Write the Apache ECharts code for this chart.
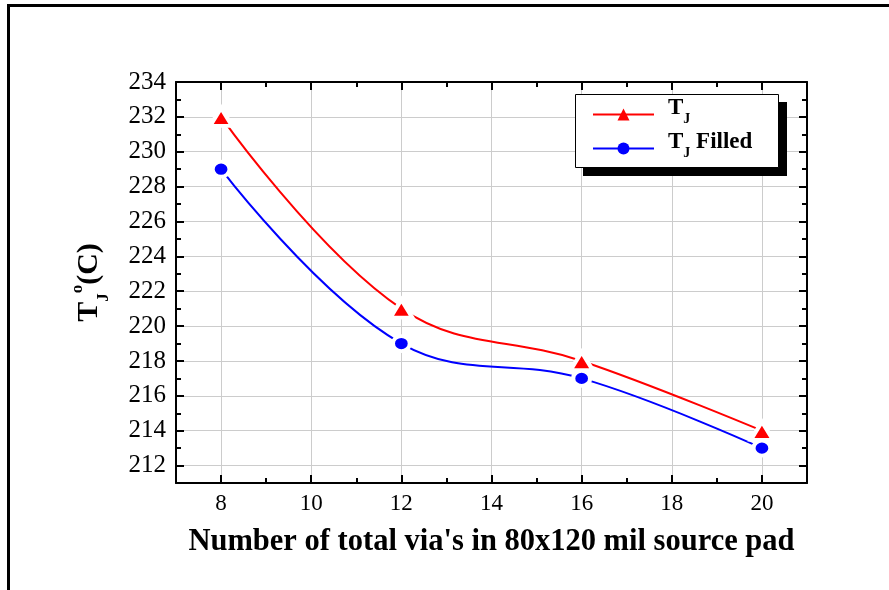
<!DOCTYPE html>
<html>
<head>
<meta charset="utf-8">
<script src="https://cdn.jsdelivr.net/npm/echarts@6/dist/echarts.min.js"></script>
<style>
  html, body { margin: 0; padding: 0; background: #fff; }
  #chart { width: 889px; height: 590px; }
</style>
</head>
<body>
<div id="chart"></div>
<script>
// via counts on the x axis
const vias = [8, 12, 16, 20]
// junction temperature, degC
const tj = [232, 221, 218, 214]
const tjFilled = [229, 219, 217, 213]
const seriesNames = ['T_J', 'T_J Filled']

const FONT = '"Liberation Serif", "Times New Roman", serif'

const toPairs = (ys) => vias.map((x, i) => [x, ys[i]])

const majorAxis = (pos, withLabel, extra) => Object.assign({
  type: 'value',
  position: pos,
  axisLine: { show: true, onZero: false, lineStyle: { color: '#000', width: 2 } },
  axisTick: { show: true, inside: true, length: 8, lineStyle: { color: '#000', width: 2 } },
  axisLabel: { show: withLabel },
  splitLine: { show: false },
}, extra)

const minorAxis = (pos, extra) => Object.assign({
  type: 'value',
  position: pos,
  interval: 1,
  axisLine: { show: false },
  axisTick: { show: true, inside: true, length: 5, lineStyle: { color: '#000', width: 2 } },
  axisLabel: { show: false },
  splitLine: { show: false },
}, extra)

const evenOnly = (v) => (v % 2 === 0 ? String(v) : '')

const xRange = { min: 7, max: 21 }
const yRange = { min: 211, max: 234 }

const chart = echarts.init(document.getElementById('chart'), null, { renderer: 'canvas' })

chart.setOption({
  backgroundColor: '#fff',
  animation: false,
  grid: { left: 176, right: 82, top: 82, bottom: 107 },
  graphic: [
    {
      type: 'rect',
      shape: { x: 8.5, y: 5.5, width: 1000, height: 1000 },
      style: { fill: 'none', stroke: '#000', lineWidth: 3 },
      silent: true,
    },
    // legend box and its drop shadow
    {
      type: 'rect',
      shape: { x: 583, y: 102, width: 204, height: 74 },
      style: { fill: '#000' },
      z: 10,
      silent: true,
    },
    {
      type: 'rect',
      shape: { x: 575.5, y: 94.5, width: 203, height: 73 },
      style: { fill: '#fff', stroke: '#000', lineWidth: 1 },
      z: 11,
      silent: true,
    },
  ],
  legend: {
    left: 592,
    top: 97,
    z: 20,
    orient: 'vertical',
    padding: 0,
    itemWidth: 61,
    itemHeight: 15,
    itemGap: 5,
    itemStyle: { borderWidth: 0 },
    formatter: (name) => (name === 'T_J' ? '{t|T}{s|J}' : '{t|T}{s|J}{t| Filled}'),
    textStyle: {
      padding: [0, 0, 0, 9],
      rich: {
        t: { fontFamily: FONT, fontWeight: 'bold', fontSize: 23, color: '#000', lineHeight: 23, padding: [0, 0, 6, 0], verticalAlign: 'bottom' },
        s: { fontFamily: FONT, fontWeight: 'bold', fontSize: 14, color: '#000', lineHeight: 14, verticalAlign: 'bottom' },
      },
    },
    data: seriesNames,
  },
  xAxis: [
    majorAxis('bottom', true, Object.assign({
      minInterval: 2,
      maxInterval: 2,
      axisLabel: { show: true, color: '#000', fontFamily: FONT, fontSize: 23, margin: 9, formatter: evenOnly },
      splitLine: { show: true, lineStyle: { color: '#cccccc', width: 1 } },
      name: "Number of total via's in 80x120 mil source pad",
      nameLocation: 'middle',
      nameGap: 44,
      nameTextStyle: { fontFamily: FONT, fontWeight: 'bold', fontSize: 30.5, color: '#000' },
    }, xRange)),
    minorAxis('bottom', xRange),
    majorAxis('top', false, Object.assign({ minInterval: 2, maxInterval: 2 }, xRange)),
    minorAxis('top', xRange),
  ],
  yAxis: [
    majorAxis('left', true, Object.assign({
      minInterval: 2,
      maxInterval: 2,
      axisLabel: { show: true, color: '#000', fontFamily: FONT, fontSize: 25, margin: 10, formatter: evenOnly },
      splitLine: { show: true, lineStyle: { color: '#cccccc', width: 1 } },
      name: '{t|T}{s|J}{o|o}{t|(C)}',
      nameLocation: 'middle',
      nameRotate: 90,
      nameGap: 64,
      nameTextStyle: {
        rich: {
          t: { fontFamily: FONT, fontWeight: 'bold', fontSize: 30, color: '#000', lineHeight: 30, padding: [0, 0, 8, 0], verticalAlign: 'bottom' },
          s: { fontFamily: FONT, fontWeight: 'bold', fontSize: 17, color: '#000', lineHeight: 17, verticalAlign: 'bottom' },
          o: { fontFamily: FONT, fontWeight: 'bold', fontSize: 17, color: '#000', lineHeight: 17, padding: [0, 0, 26, 0], verticalAlign: 'bottom' },
        },
      },
    }, yRange)),
    minorAxis('left', yRange),
    majorAxis('right', false, Object.assign({ minInterval: 2, maxInterval: 2 }, yRange)),
    minorAxis('right', yRange),
  ],
  series: [
    {
      name: seriesNames[0],
      type: 'line',
      data: toPairs(tj),
      smooth: 0.4,
      symbol: 'triangle',
      symbolSize: [22, 18],
      lineStyle: { color: '#ff0000', width: 2 },
      itemStyle: { color: '#ff0000', borderColor: '#fff', borderWidth: 4 },
    },
    {
      name: seriesNames[1],
      type: 'line',
      data: toPairs(tjFilled),
      smooth: 0.4,
      symbol: 'circle',
      symbolSize: [17, 15],
      lineStyle: { color: '#0000ff', width: 2 },
      itemStyle: { color: '#0000ff', borderColor: '#fff', borderWidth: 4 },
    },
  ],
})
</script>
</body>
</html>
